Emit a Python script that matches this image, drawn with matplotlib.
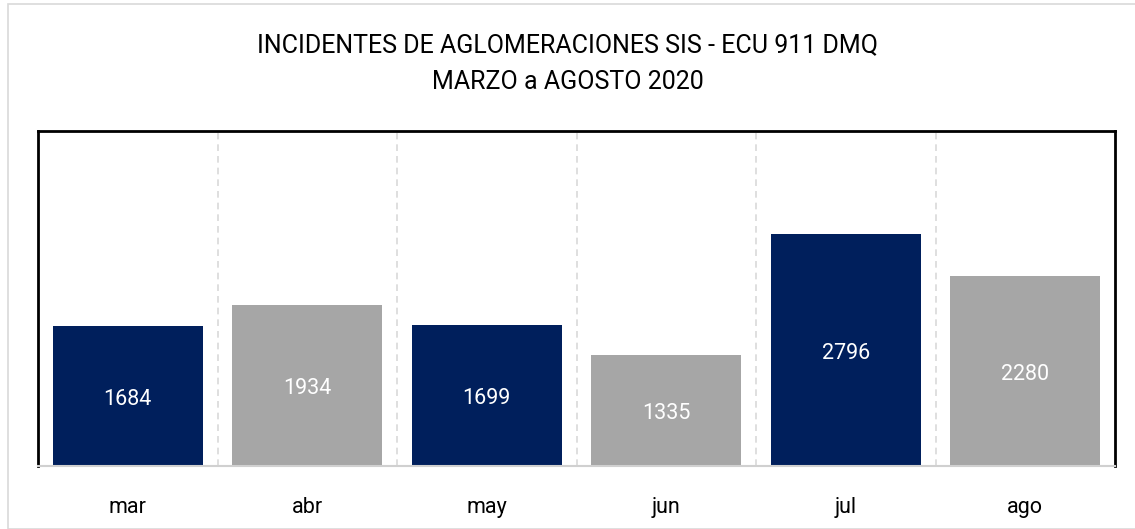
import matplotlib.pyplot as plt
from matplotlib.patches import Rectangle
import numpy as np

months = ["mar", "abr", "may", "jun", "jul", "ago"]
incidents = [1684, 1934, 1699, 1335, 2796, 2280]
bar_colors = ["#001f5c", "#a6a6a6", "#001f5c", "#a6a6a6", "#001f5c", "#a6a6a6"]

plt.rcParams["font.family"] = ["Roboto", "DejaVu Sans"]

fig = plt.figure(figsize=(11.35, 5.29), dpi=100)
# thin light frame around the whole chart
fig.patches.append(Rectangle((8 / 1135, 0), 1.2, 1 - 4 / 529, transform=fig.transFigure,
                             fill=False, edgecolor="#d9d9d9", linewidth=1.2))

ax = fig.add_axes([38 / 1135, 1 - 466 / 529, (1115 - 38) / 1135, (466 - 131) / 529])
x = np.arange(len(months))
bars = ax.bar(x, incidents, width=0.835, color=bar_colors, zorder=2)

for rect, val in zip(bars, incidents):
    ax.text(rect.get_x() + rect.get_width() / 2, val / 2 - 40, str(val),
            ha="center", va="center", color="white", fontsize=15.5)

ax.set_xlim(-0.5, len(months) - 0.5)
ax.set_ylim(0, 4030)
ax.set_yticks([])
ax.set_xticks(x)
ax.set_xticklabels(months, fontsize=15.5)
ax.tick_params(axis="x", length=0, pad=22)

for b in np.arange(0.5, len(months) - 0.5, 1):
    ax.axvline(b, color="#d9d9d9", linestyle=(0, (4, 3)), linewidth=1.2, zorder=1)

for side in ["left", "top", "right"]:
    ax.spines[side].set_color("black")
    ax.spines[side].set_linewidth(2)
ax.spines["bottom"].set_color("#d0d0d0")
ax.spines["bottom"].set_linewidth(1.5)

fig.text(0.5, 1 - 45 / 529, "INCIDENTES DE AGLOMERACIONES SIS - ECU 911 DMQ",
         ha="center", va="center", fontsize=18)
fig.text(0.5, 1 - 82 / 529, "MARZO a AGOSTO 2020",
         ha="center", va="center", fontsize=18)

fig.savefig("out.png", dpi=100)
